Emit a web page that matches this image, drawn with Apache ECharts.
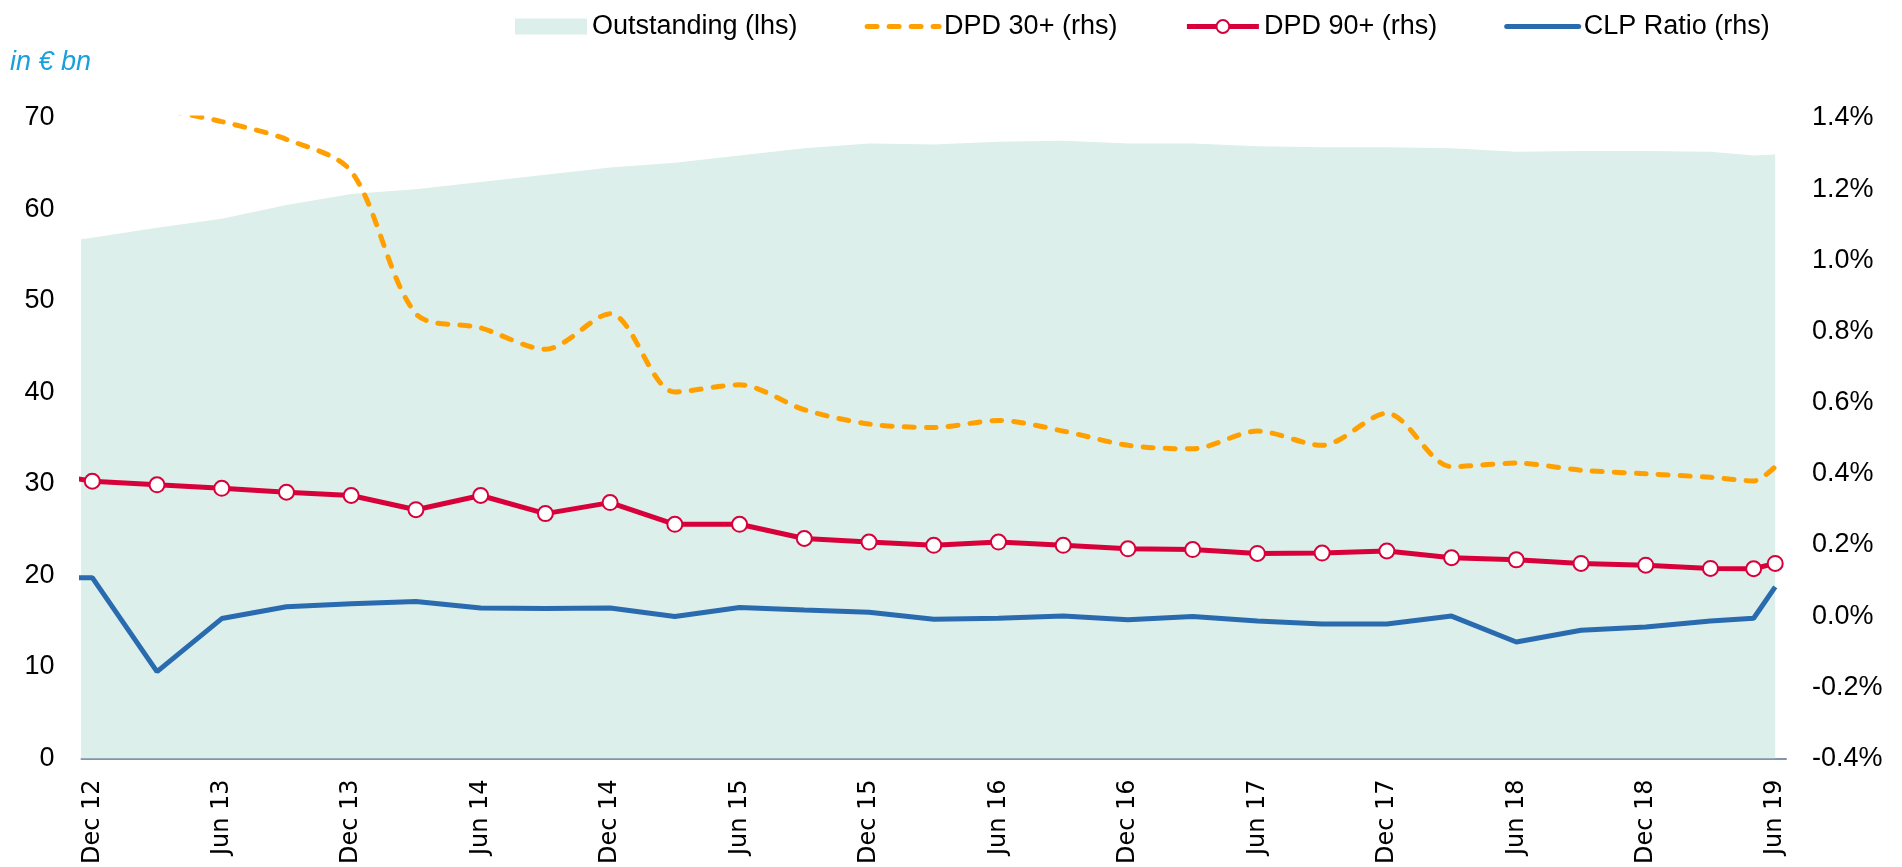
<!DOCTYPE html>
<html>
<head>
<meta charset="utf-8">
<title>Outstanding and DPD</title>
<script src="https://cdn.jsdelivr.net/npm/echarts@6/dist/echarts.min.js"></script>
<style>
  html, body { margin: 0; padding: 0; background: #fff; }
  #chart { width: 1902px; height: 867px; }
</style>
</head>
<body>
<div id="chart"></div>
<script>
// reporting dates (Sep 12 lies just outside the plotted range, as in the source)
const periods = ['Sep 12', 'Dec 12', 'Mar 13', 'Jun 13', 'Sep 13', 'Dec 13', 'Mar 14', 'Jun 14', 'Sep 14', 'Dec 14',
  'Mar 15', 'Jun 15', 'Sep 15', 'Dec 15', 'Mar 16', 'Jun 16', 'Sep 16', 'Dec 16', 'Mar 17', 'Jun 17',
  'Sep 17', 'Dec 17', 'Mar 18', 'Jun 18', 'Sep 18', 'Dec 18', 'Mar 19', 'May 19', 'Jun 19'];

const tickLabels = ['Dec 12', 'Jun 13', 'Dec 13', 'Jun 14', 'Dec 14', 'Jun 15', 'Dec 15',
  'Jun 16', 'Dec 16', 'Jun 17', 'Dec 17', 'Jun 18', 'Dec 18', 'Jun 19'];

// in € bn (lhs)
const outstanding = [56.0, 56.9, 58.0, 59.0, 60.5, 61.7, 62.2, 63.0, 63.8, 64.6,
  65.1, 65.9, 66.7, 67.2, 67.1, 67.4, 67.5, 67.2, 67.2, 66.9,
  66.8, 66.8, 66.7, 66.3, 66.4, 66.4, 66.3, 65.9, 66.0];

// in % (rhs)
const dpd30 = [1.58, 1.50, 1.43, 1.39, 1.34, 1.25, 0.85, 0.81, 0.75, 0.85,
  0.63, 0.65, 0.58, 0.54, 0.53, 0.55, 0.52, 0.48, 0.47, 0.52,
  0.48, 0.57, 0.42, 0.43, 0.41, 0.40, 0.39, 0.38, 0.42];

const dpd90 = [0.410, 0.379, 0.369, 0.359, 0.348, 0.339, 0.299, 0.339, 0.288, 0.319,
  0.258, 0.258, 0.218, 0.208, 0.199, 0.208, 0.199, 0.189, 0.187, 0.176,
  0.177, 0.183, 0.164, 0.158, 0.148, 0.143, 0.134, 0.133, 0.148];

const clpRatio = [0.108, 0.108, -0.156, -0.007, 0.026, 0.035, 0.041, 0.023, 0.021, 0.023,
  -0.001, 0.024, 0.017, 0.011, -0.009, -0.006, 0.000, -0.010, -0.001, -0.014,
  -0.022, -0.022, 0.000, -0.073, -0.040, -0.031, -0.014, -0.006, 0.082];

const MONTHS = ['Jan', 'Feb', 'Mar', 'Apr', 'May', 'Jun', 'Jul', 'Aug', 'Sep', 'Oct', 'Nov', 'Dec'];
// months since Dec 12
const monthIdx = (label) => {
  const [m, y] = label.split(' ');
  return (Number(y) - 12) * 12 + MONTHS.indexOf(m) - 11;
};
const pairs = (values) => values.map((v, i) => [monthIdx(periods[i]), v]);
const tickPos = tickLabels.map(monthIdx);
const labelAt = {};
tickLabels.forEach((t) => { labelAt[monthIdx(t)] = t; });

const FONT = 'Liberation Sans';
const RED = '#d7003a';
const ORANGE = '#ffa000';
const BLUE = '#2a6bb0';
const MINT = '#dcefea';

const chart = echarts.init(document.getElementById('chart'));
chart.setOption({
  animation: false,
  title: {
    text: 'in € bn',
    left: 5,
    top: 44,
    textStyle: { color: '#1aa0dc', fontStyle: 'italic', fontWeight: 'normal', fontSize: 27, fontFamily: FONT }
  },
  legend: {
    left: 510,
    top: 8,
    itemWidth: 72,
    itemHeight: 16,
    itemGap: 67,
    textStyle: { color: '#000', fontSize: 27, fontFamily: FONT },
    data: [
      { name: 'Outstanding (lhs)', icon: 'rect', itemStyle: { color: MINT } },
      { name: 'DPD 30+ (rhs)', itemStyle: { opacity: 0 }, lineStyle: { width: 5, color: ORANGE, type: [10, 12], cap: 'round' } },
      { name: 'DPD 90+ (rhs)', itemStyle: { color: '#fff', borderColor: RED, borderWidth: 2 }, lineStyle: { width: 5, color: RED } },
      { name: 'CLP Ratio (rhs)', itemStyle: { opacity: 0 }, lineStyle: { width: 5, color: BLUE, cap: 'round' } }
    ]
  },
  grid: { left: 81.5, right: 116, top: 118, bottom: 107 },
  xAxis: {
    type: 'value',
    min: -0.5,
    max: 78.5,
    axisLine: { lineStyle: { color: '#8094ab', width: 2 } },
    axisTick: { show: false },
    splitLine: { show: false },
    axisLabel: {
      customValues: tickPos,
      rotate: 90,
      margin: 21,
      color: '#000',
      fontSize: 24,
      fontFamily: 'DejaVu Sans',
      formatter: (v) => labelAt[Math.round(v)] || ''
    }
  },
  yAxis: [
    {
      type: 'value',
      min: 0,
      max: 70,
      interval: 10,
      splitLine: { show: false },
      axisLine: { show: false },
      axisTick: { show: false },
      axisLabel: { margin: 27, color: '#000', fontSize: 27, fontFamily: FONT }
    },
    {
      type: 'value',
      min: -0.4,
      max: 1.4,
      interval: 0.2,
      position: 'right',
      splitLine: { show: false },
      axisLine: { show: false },
      axisTick: { show: false },
      axisLabel: {
        margin: 26,
        color: '#000',
        fontSize: 27,
        fontFamily: FONT,
        formatter: (v) => v.toFixed(1) + '%'
      }
    }
  ],
  series: [
    {
      name: 'Outstanding (lhs)',
      type: 'line',
      yAxisIndex: 0,
      data: pairs(outstanding),
      symbol: 'none',
      lineStyle: { width: 0 },
      itemStyle: { color: MINT },
      areaStyle: { color: MINT, opacity: 1 },
      z: 1
    },
    {
      name: 'DPD 30+ (rhs)',
      type: 'line',
      yAxisIndex: 1,
      data: pairs(dpd30),
      symbol: 'none',
      smooth: 0.3,
      itemStyle: { color: ORANGE },
      lineStyle: { color: ORANGE, width: 5, type: [10, 12], cap: 'round' },
      z: 3
    },
    {
      name: 'DPD 90+ (rhs)',
      type: 'line',
      yAxisIndex: 1,
      data: pairs(dpd90),
      symbol: 'circle',
      symbolSize: 15,
      itemStyle: { color: '#fff', borderColor: RED, borderWidth: 2 },
      lineStyle: { color: RED, width: 5 },
      z: 4
    },
    {
      name: 'CLP Ratio (rhs)',
      type: 'line',
      yAxisIndex: 1,
      data: pairs(clpRatio),
      symbol: 'none',
      itemStyle: { color: BLUE },
      lineStyle: { color: BLUE, width: 5 },
      z: 2
    }
  ]
});
</script>
</body>
</html>
